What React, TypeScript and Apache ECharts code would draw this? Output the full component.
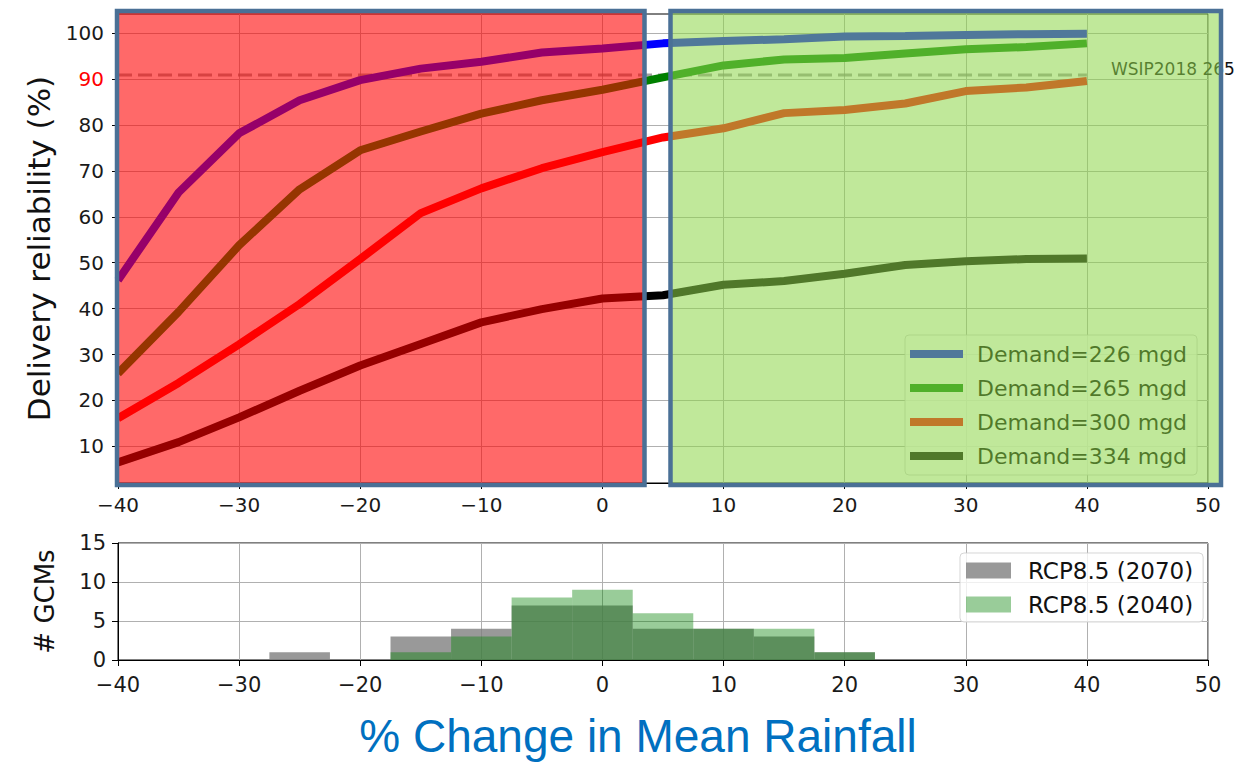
import React, { useEffect, useRef } from 'react';
import * as echarts from 'echarts';

// % change in mean rainfall (x values of the reliability curves)
const rainfallChange = [-40, -35, -30, -25, -20, -15, -10, -5, 0, 5, 10, 15, 20, 25, 30, 35, 40];

// Delivery reliability (%) per demand level
const demand226 = [46.2, 65.3, 78.2, 85.4, 89.8, 92.3, 93.8, 95.8, 96.7, 97.8, 98.3, 98.7, 99.3, 99.4, 99.6, 99.8, 99.9];
const demand265 = [25.9, 39.3, 53.8, 66.0, 74.5, 78.6, 82.5, 85.4, 87.7, 90.4, 93.0, 94.3, 94.6, 95.6, 96.5, 97.0, 97.8];
const demand300 = [16.1, 23.8, 32.2, 41.0, 50.8, 60.8, 66.2, 70.6, 74.1, 77.3, 79.3, 82.6, 83.3, 84.7, 87.4, 88.2, 89.6];
const demand334 = [6.5, 10.9, 16.3, 22.1, 27.6, 32.3, 37.0, 39.9, 42.2, 42.9, 45.2, 46.0, 47.6, 49.5, 50.3, 50.8, 50.9];

const demandNames = ['Demand=226 mgd', 'Demand=265 mgd', 'Demand=300 mgd', 'Demand=334 mgd'];

// WSIP2018 265 reference level
const wsipX = [-40, 40];
const wsipLevel = 90.9;
const wsipLabel = 'WSIP2018 265';

// reliability axis ticks
const reliabilityTicks = [10, 20, 30, 40, 50, 60, 70, 80, 90, 100];

// Histogram of GCMs (bin centres, bin width 5)
const binCenters = [-25, -20, -15, -10, -5, 0, 5, 10, 15, 20];
const rcp2070 = [1, 0, 3, 4, 7, 7, 4, 4, 3, 1];
const rcp2040 = [0, 0, 1, 3, 8, 9, 6, 4, 4, 1];
const binWidth = 5;

const FONT = '"DejaVu Sans", sans-serif';

export default function App() {
  const ref = useRef<HTMLDivElement>(null);

  useEffect(() => {
    document.body.style.margin = '0';
    const chart = echarts.init(ref.current as HTMLDivElement, null, { renderer: 'svg' });

    const pairs = (ys: number[]) => rainfallChange.map((x, i) => [x, ys[i]]);
    const minus = (v: number) => String(v).replace('-', '\u2212');
    const hist = (ys: number[]) =>
      binCenters.map((c, i) => [c, ys[i]]).filter((d) => d[1] > 0);

    const renderBin = (params: any, api: any) => {
      const c = api.value(0);
      const h = api.value(1);
      const p0 = api.coord([c - binWidth / 2, h]);
      const p1 = api.coord([c + binWidth / 2, 0]);
      return {
        type: 'rect',
        shape: { x: p0[0], y: p0[1], width: p1[0] - p0[0], height: p1[1] - p0[1] },
        style: { fill: api.visual('color') },
      };
    };

    const lineSeries = (name: string, ys: number[], color: string) => ({
      name,
      type: 'line',
      xAxisIndex: 0,
      yAxisIndex: 0,
      data: pairs(ys),
      color,
      symbol: 'none',
      lineStyle: { width: 8, color },
      itemStyle: { color },
      silent: true,
      z: 3,
    });

    const gridLine = { show: true, lineStyle: { color: '#b0b0b0', width: 1 } };
    const tick = { show: true, length: 6, inside: false, lineStyle: { color: '#000', width: 1 } };
    const axisLine = { show: true, onZero: false, lineStyle: { color: '#000', width: 1 } };

    const option: any = {
      animation: false,
      textStyle: { fontFamily: FONT },
      grid: [
        { left: 118, top: 14, width: 1090, height: 469, show: true, borderColor: '#000', borderWidth: 1, backgroundColor: 'transparent' },
        { left: 118, top: 543, width: 1090, height: 117, show: true, borderColor: '#000', borderWidth: 1, backgroundColor: 'transparent' },
      ],
      xAxis: [
        {
          type: 'value', gridIndex: 0, min: -40, max: 50, interval: 10,
          axisLine, axisTick: tick, splitLine: gridLine,
          axisLabel: { formatter: minus, fontSize: 20, color: '#1a1a1a', margin: 12, fontFamily: FONT, showMinLabel: true, showMaxLabel: true },
        },
        {
          type: 'value', gridIndex: 1, min: -40, max: 50, interval: 10,
          axisLine, axisTick: tick, splitLine: gridLine,
          axisLabel: { formatter: minus, fontSize: 21, color: '#1a1a1a', margin: 14, fontFamily: FONT, showMinLabel: true, showMaxLabel: true },
        },
      ],
      yAxis: [
        {
          type: 'value', gridIndex: 0, min: 2, max: 104.2,
          axisLine, axisTick: { ...tick, customValues: reliabilityTicks },
          splitLine: gridLine,
          axisLabel: {
            customValues: reliabilityTicks,
            formatter: (v: number) => (v === 90 ? '{red|90}' : String(v)),
            rich: { red: { color: '#ff0000', fontSize: 20, fontFamily: FONT } },
            fontSize: 20, color: '#1a1a1a', margin: 14, fontFamily: FONT,
          },
          name: 'Delivery reliability (%)',
          nameLocation: 'middle',
          nameGap: 64,
          nameTextStyle: { fontSize: 31, color: '#111', fontFamily: FONT },
        },
        {
          type: 'value', gridIndex: 1, min: 0, max: 15, interval: 5,
          axisLine, axisTick: tick, splitLine: gridLine,
          axisLabel: { fontSize: 21, color: '#1a1a1a', margin: 12, fontFamily: FONT, showMinLabel: true, showMaxLabel: true },
          name: '# GCMs',
          nameLocation: 'middle',
          nameGap: 60,
          nameTextStyle: { fontSize: 26, color: '#111', fontFamily: FONT },
        },
      ],
      legend: [
        {
          data: demandNames,
          selectedMode: false,
          orient: 'vertical',
          left: 905,
          top: 335,
          icon: 'rect',
          itemWidth: 53,
          itemHeight: 8,
          itemGap: 12,
          padding: [8, 10, 8, 5],
          backgroundColor: 'rgba(255,255,255,0.8)',
          borderColor: 'rgba(204,204,204,0.8)',
          borderWidth: 1,
          borderRadius: 4,
          textStyle: { fontSize: 22, lineHeight: 22, color: '#000', fontFamily: FONT, padding: [0, 0, 0, 9] },
        },
        {
          data: ['RCP8.5 (2070)', 'RCP8.5 (2040)'],
          selectedMode: false,
          orient: 'vertical',
          left: 960,
          top: 553,
          icon: 'rect',
          itemWidth: 45,
          itemHeight: 16,
          itemGap: 11,
          padding: [6, 10, 6, 6],
          backgroundColor: 'rgba(255,255,255,0.8)',
          borderColor: 'rgba(204,204,204,0.8)',
          borderWidth: 1,
          borderRadius: 4,
          textStyle: { fontSize: 23, lineHeight: 23, color: '#111', fontFamily: FONT, padding: [0, 0, 0, 12] },
        },
      ],
      series: [
        {
          name: 'WSIP',
          type: 'line',
          xAxisIndex: 0,
          yAxisIndex: 0,
          data: wsipX.map((x) => [x, wsipLevel]),
          symbol: 'none',
          silent: true,
          z: 2,
          lineStyle: { color: 'rgba(128,128,128,0.75)', width: 3, type: [14, 6] },
          endLabel: {
            show: true,
            formatter: wsipLabel,
            fontSize: 17,
            color: '#111',
            distance: 24,
            offset: [0, -6],
            fontFamily: FONT,
          },
        },
        lineSeries(demandNames[0], demand226, '#0000ff'),
        lineSeries(demandNames[1], demand265, '#008000'),
        lineSeries(demandNames[2], demand300, '#ff0000'),
        lineSeries(demandNames[3], demand334, '#000000'),
        {
          name: 'RCP8.5 (2070)',
          type: 'custom',
          xAxisIndex: 1,
          yAxisIndex: 1,
          data: hist(rcp2070),
          itemStyle: { color: 'rgba(128,128,128,0.8)' },
          renderItem: renderBin,
          silent: true,
          z: 2,
        },
        {
          name: 'RCP8.5 (2040)',
          type: 'custom',
          xAxisIndex: 1,
          yAxisIndex: 1,
          data: hist(rcp2040),
          itemStyle: { color: 'rgba(0,128,0,0.4)' },
          renderItem: renderBin,
          silent: true,
          z: 3,
        },
      ],
      graphic: [
        {
          type: 'rect',
          z: 100,
          silent: true,
          shape: { x: 117, y: 11, width: 527.5, height: 474 },
          style: { fill: 'rgba(255,0,0,0.59)', stroke: '#4a7096', lineWidth: 4.5 },
        },
        {
          type: 'rect',
          z: 100,
          silent: true,
          shape: { x: 670.5, y: 11, width: 550.5, height: 474 },
          style: { fill: 'rgba(143,214,75,0.56)', stroke: '#4a7096', lineWidth: 4.5 },
        },
        {
          type: 'text',
          z: 100,
          x: 638,
          y: 736,
          style: {
            text: '% Change in Mean Rainfall',
            fontSize: 46,
            fontFamily: '"Liberation Sans", Arial, sans-serif',
            fill: '#0070c0',
            align: 'center',
            verticalAlign: 'middle',
          },
        },
      ],
    };

    chart.setOption(option);
    return () => chart.dispose();
  }, []);

  return (
    <div
      ref={ref}
      style={{ position: 'absolute', left: 0, top: 0, width: 1244, height: 763, background: '#fff' }}
    />
  );
}
